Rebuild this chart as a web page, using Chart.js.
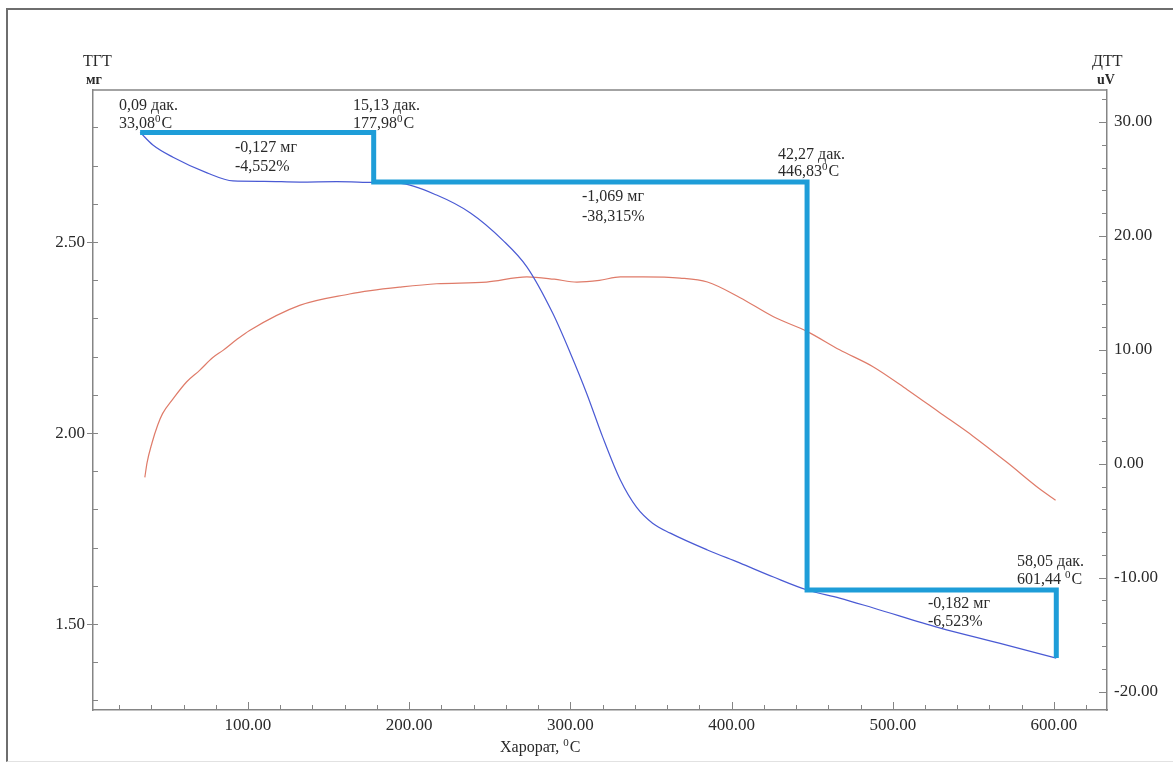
<!DOCTYPE html>
<html>
<head>
<meta charset="utf-8">
<script src="https://cdn.jsdelivr.net/npm/chart.js@4.4.1/dist/chart.umd.min.js"></script>
<style>
  html, body { margin: 0; padding: 0; background: #fff; }
  .wrap { position: relative; width: 1173px; height: 762px; overflow: hidden; }
  .frame {
    position: absolute; left: 6px; top: 8px; width: 1200px; height: 751px;
    border-left: 2px solid #6e6e6e; border-top: 2px solid #6e6e6e;
    border-bottom: 1px solid #e2e2e2;
  }
  canvas { position: absolute; left: 0; top: 0; }
</style>
</head>
<body>
<div class="wrap">
  <div class="frame"></div>
  <canvas id="chart" width="1173" height="762"></canvas>
</div>
<script>
// TGA curve, mass (mg) vs temperature (C)
const tgaTemp = [33.1, 41, 53.5, 74.6, 90.7, 110, 132, 155, 178, 194, 217, 238, 258, 273, 289, 300, 310, 320, 331, 341, 351, 362, 385, 405, 426, 447, 467, 488, 529, 566, 601.4];
const tgaMass = [2.787, 2.754, 2.722, 2.681, 2.660, 2.659, 2.657, 2.658, 2.656, 2.654, 2.623, 2.576, 2.505, 2.435, 2.314, 2.209, 2.105, 1.990, 1.877, 1.806, 1.764, 1.738, 1.694, 1.660, 1.623, 1.589, 1.568, 1.542, 1.490, 1.450, 1.411];

// DTA curve, uV vs temperature (C)
const dtaTemp = [36, 37.4, 40.4, 44, 47, 53.5, 62, 70, 78, 84.5, 93, 101, 132, 163, 176, 194, 217, 248, 273, 290, 304, 318, 331, 345, 368, 385, 405, 426, 447, 467, 488, 509, 529, 550, 571, 591, 601];
const dtaUv = [-1.2, 0.1, 1.8, 3.4, 4.4, 5.7, 7.2, 8.2, 9.3, 9.95, 10.9, 11.7, 13.9, 14.9, 15.2, 15.5, 15.8, 15.95, 16.4, 16.2, 15.95, 16.1, 16.4, 16.4, 16.3, 15.95, 14.6, 12.9, 11.6, 10.0, 8.5, 6.5, 4.5, 2.4, 0.1, -2.2, -3.2];

// mass-loss steps
const stepTemp = [33.08, 177.98, 177.98, 446.83, 446.83, 601.44, 601.44];
const stepMass = [2.787, 2.787, 2.657, 2.657, 1.589, 1.589, 1.411];

// axis ticks
const xMajorTicks = [100, 200, 300, 400, 500, 600];
const yLeftMajorTicks = [1.5, 2.0, 2.5];
const yRightMajorTicks = [-20, -10, 0, 10, 20, 30];

// annotation texts (^ marks a superscript character)
const noteTexts = [
  '0,09 дак.', '33,08^0C',
  '15,13 дак.', '177,98^0C',
  '-0,127 мг', '-4,552%',
  '42,27 дак.', '446,83^0C',
  '-1,069 мг', '-38,315%',
  '58,05 дак.', '601,44 ^0C',
  '-0,182 мг', '-6,523%'
];
const notePos = [
  [119, 106], [119, 124],
  [353, 106], [353, 124],
  [235, 148], [235, 167],
  [778, 155], [778, 172],
  [582, 197], [582, 217],
  [1017, 562], [1017, 580],
  [928, 604], [928, 622]
];

const FONT = '"Liberation Serif", "Times New Roman", serif';
const AXIS = '#858585';
const TEXT = '#2a2a2a';

function toPoints(xs, ys) {
  return xs.map((x, i) => ({ x, y: ys[i] }));
}

function drawRich(ctx, text, x, y, size) {
  const parts = text.split('^');
  ctx.font = `${size}px ${FONT}`;
  let cx = x;
  ctx.fillText(parts[0], cx, y);
  cx += ctx.measureText(parts[0]).width;
  parts.slice(1).forEach(part => {
    const sup = part[0];
    const rest = part.slice(1);
    ctx.font = `${Math.round(size * 0.7)}px ${FONT}`;
    ctx.fillText(sup, cx, y - size * 0.32);
    cx += ctx.measureText(sup).width + 1;
    ctx.font = `${size}px ${FONT}`;
    ctx.fillText(rest, cx, y);
    cx += ctx.measureText(rest).width;
  });
}

function line(ctx, x1, y1, x2, y2) {
  ctx.beginPath();
  ctx.moveTo(x1, y1);
  ctx.lineTo(x2, y2);
  ctx.stroke();
}

const decorPlugin = {
  id: 'decor',
  afterDraw(chart) {
    const { ctx, chartArea: a, scales } = chart;
    ctx.save();
    ctx.strokeStyle = AXIS;
    ctx.lineWidth = 1.5;
    line(ctx, a.left, a.top, a.right, a.top);

    ctx.lineWidth = 1;
    // bottom axis ticks, minor every 20
    for (let v = 20; v <= 620; v += 20) {
      const px = Math.round(scales.x.getPixelForValue(v)) + 0.5;
      const len = xMajorTicks.includes(v) ? 8 : 5;
      line(ctx, px, a.bottom, px, a.bottom - len);
    }
    // left axis ticks, minor every 0.1
    for (let i = 13; i <= 28; i++) {
      const v = i / 10;
      const py = Math.round(scales.y.getPixelForValue(v)) + 0.5;
      const major = yLeftMajorTicks.some(t => Math.abs(t - v) < 1e-6);
      line(ctx, a.left - (major ? 6 : 0), py, a.left + 5, py);
    }
    // right axis ticks, minor every 2
    for (let v = -20; v <= 32; v += 2) {
      const py = Math.round(scales.y2.getPixelForValue(v)) + 0.5;
      const len = yRightMajorTicks.includes(v) ? 8 : 5;
      line(ctx, a.right - len, py, a.right, py);
    }

    ctx.fillStyle = TEXT;
    ctx.textBaseline = 'middle';
    ctx.textAlign = 'left';
    noteTexts.forEach((t, i) => drawRich(ctx, t, notePos[i][0], notePos[i][1], 16));

    // axis titles
    drawRich(ctx, 'ТГТ', 83, 62, 16);
    ctx.font = `bold 14px ${FONT}`;
    ctx.fillText('мг', 86, 80);
    drawRich(ctx, 'ДТТ', 1092, 62, 16);
    ctx.font = `bold 14px ${FONT}`;
    ctx.fillText('uV', 1097, 80);
    drawRich(ctx, 'Харорат, ^0C', 500, 748, 16);
    ctx.restore();
  }
};

const chart = new Chart(document.getElementById('chart'), {
  type: 'line',
  data: {
    datasets: [
      {
        label: 'steps',
        data: toPoints(stepTemp, stepMass),
        yAxisID: 'y',
        borderColor: '#1e9dd8',
        borderWidth: 5,
        borderJoinStyle: 'miter',
        borderCapStyle: 'butt',
        pointRadius: 0,
        tension: 0,
        order: 0
      },
      {
        label: 'ТГТ',
        data: toPoints(tgaTemp, tgaMass),
        yAxisID: 'y',
        borderColor: '#4a5ad4',
        borderWidth: 1.2,
        pointRadius: 0,
        cubicInterpolationMode: 'monotone',
        order: 1
      },
      {
        label: 'ДТТ',
        data: toPoints(dtaTemp, dtaUv),
        yAxisID: 'y2',
        borderColor: '#df7b69',
        borderWidth: 1.2,
        pointRadius: 0,
        cubicInterpolationMode: 'monotone',
        order: 2
      }
    ]
  },
  options: {
    responsive: false,
    animation: false,
    layout: { padding: { top: 90, left: 0, right: 0, bottom: 0 } },
    plugins: {
      legend: { display: false },
      tooltip: { enabled: false }
    },
    scales: {
      x: {
        type: 'linear',
        min: 3.85,
        max: 632.9,
        grid: { display: false, drawTicks: false },
        border: { display: true, color: AXIS, width: 1.5 },
        afterBuildTicks: s => { s.ticks = xMajorTicks.map(v => ({ value: v })); },
        afterFit: s => { s.height = 52; },
        ticks: {
          autoSkip: false,
          maxRotation: 0,
          padding: 5,
          color: TEXT,
          font: { family: FONT, size: 17 },
          callback: v => Number(v).toFixed(2)
        }
      },
      y: {
        type: 'linear',
        position: 'left',
        min: 1.275,
        max: 2.898,
        grid: { display: false, drawTicks: false },
        border: { display: true, color: AXIS, width: 1.5 },
        afterBuildTicks: s => { s.ticks = yLeftMajorTicks.map(v => ({ value: v })); },
        afterFit: s => { s.width = 93; },
        ticks: {
          padding: 8,
          color: TEXT,
          font: { family: FONT, size: 17 },
          callback: v => Number(v).toFixed(2)
        }
      },
      y2: {
        type: 'linear',
        position: 'right',
        min: -21.62,
        max: 32.81,
        grid: { display: false, drawTicks: false },
        border: { display: true, color: AXIS, width: 1.5 },
        afterBuildTicks: s => { s.ticks = yRightMajorTicks.map(v => ({ value: v })); },
        afterFit: s => { s.width = 66; },
        ticks: {
          padding: 7,
          color: TEXT,
          font: { family: FONT, size: 17 },
          callback: v => Number(v).toFixed(2)
        }
      }
    }
  },
  plugins: [decorPlugin]
});
</script>
</body>
</html>
